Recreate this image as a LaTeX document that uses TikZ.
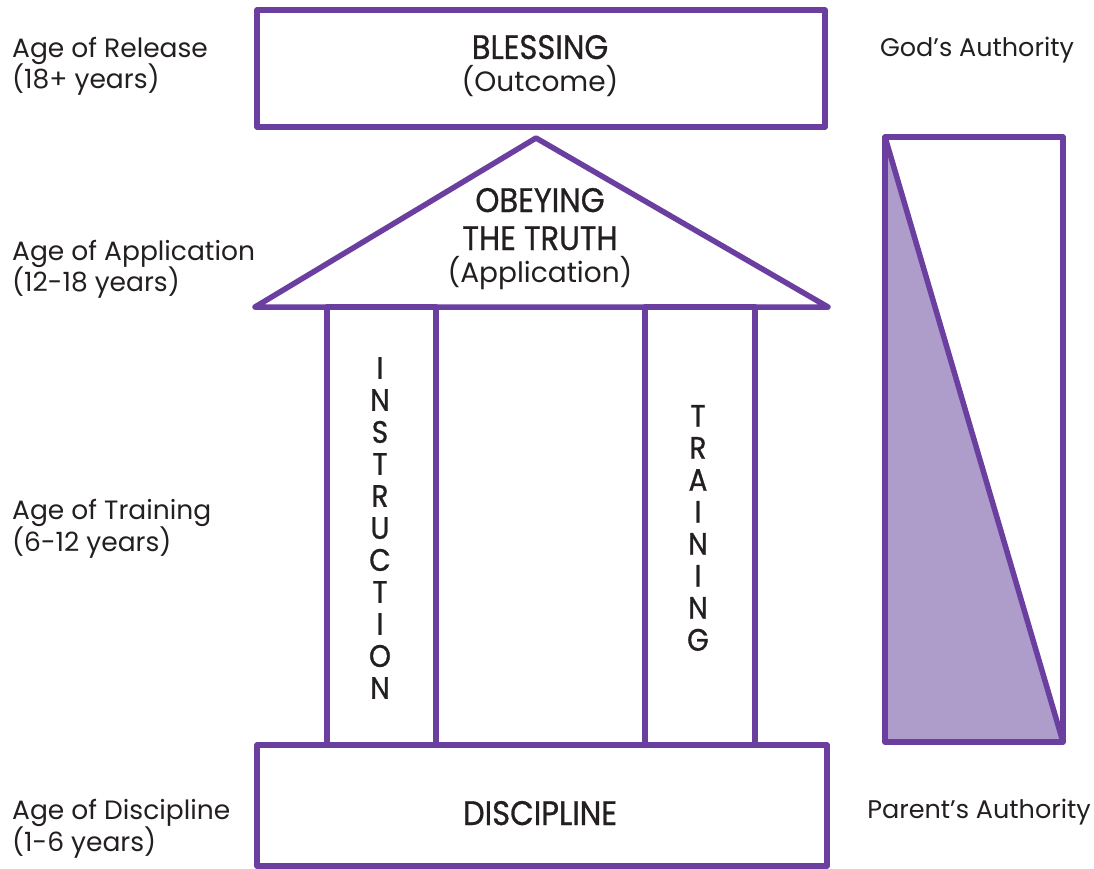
\documentclass[tikz,border=0pt]{standalone}
\usepackage{fontspec}
\setmainfont{Poppins}
\newfontfamily\capsfont{Poppins}[FakeStretch=0.9,FakeBold=0.8]
\usetikzlibrary{positioning}
\definecolor{crayon}{HTML}{6A3FA0}
\definecolor{authfill}{HTML}{AE9DCB}
\definecolor{ink}{HTML}{231F20}
\tikzset{slab/.style={draw=crayon,line width=5.5pt,line join=round,inner sep=0pt,outer sep=0pt}}
\tikzset{edge/.style={draw=crayon,line width=5.5pt,line join=round}}
\tikzset{agelabel/.style={anchor=base west,inner sep=0pt,font=\fontsize{26.5}{30}\selectfont,text=ink}}
\tikzset{authlabel/.style={anchor=base,inner sep=0pt,font=\fontsize{25.5}{30}\selectfont,text=ink}}
\tikzset{headtext/.style={anchor=base,inner sep=0pt,font=\capsfont\fontsize{34}{36}\selectfont,text=ink}}
\tikzset{subtext/.style={anchor=base,inner sep=0pt,font=\fontsize{28}{30}\selectfont,text=ink}}
\tikzset{pillartext/.style={align=center,inner sep=0pt,font=\capsfont\fontsize{31}{32}\selectfont,text=ink}}

\begin{document}
\begin{tikzpicture}[x=1pt,y=-1pt]
        \useasboundingbox (0,0) rectangle (1094,869);
        % authority bar
        \coordinate (authNW) at (885,137);
        \coordinate (authSE) at (1063,742);
        \fill[authfill] (authNW) -- (authNW|-authSE) -- (authSE) -- cycle;
        \draw[edge] (authNW) rectangle (authSE);
        \draw[edge] (authNW) -- (authSE);
        % slabs and pillars
        \node[slab,minimum width=568pt,minimum height=117pt] (blessing) at (541,68.5) {};
        \node[slab,minimum width=570pt,minimum height=121pt] (discipline) at (542,805.5) {};
        \node[slab,minimum width=109pt,minimum height=438pt] (instr) at (381.5,526) {};
        \node[slab,minimum width=110pt,minimum height=438pt] (train) at (700,526) {};
        \coordinate (roofL) at (255,307);
        \coordinate (roofR) at (828,307);
        \coordinate (roofT) at (536,138);
        \draw[edge] (roofL) -- (roofT) -- (roofR) -- cycle;
        % texts in the temple
        \node[headtext] (blesstxt) at (540,59) {BLESSING};
        \node[subtext] (outcome) at ([yshift=-33pt]blesstxt.base) {(Outcome)};
        \node[headtext] (obey) at (540,212) {OBEYING};
        \node[headtext] (truth) at ([yshift=-38pt]obey.base) {THE TRUTH};
        \node[subtext] (appl) at ([yshift=-32pt]truth.base) {(Application)};
        \node[headtext] (disctxt) at (540,825) {DISCIPLINE};
        \node[pillartext] (instrtxt) at (380,528) {I\\N\\S\\T\\R\\U\\C\\T\\I\\O\\N};
        \node[pillartext] (traintxt) at (698,528) {T\\R\\A\\I\\N\\I\\N\\G};
        % ages on the left
        \node[agelabel] (release) at (12,58) {Age of Release};
        \node[agelabel] (releaseyrs) at ([yshift=-31pt]release.base west) {(18+ years)};
        \node[agelabel] (apply) at (12,260) {Age of Application};
        \node[agelabel] (applyyrs) at ([yshift=-31pt]apply.base west) {(12-18 years)};
        \node[agelabel] (training) at (12,519) {Age of Training};
        \node[agelabel] (trainingyrs) at ([yshift=-32pt]training.base west) {(6-12 years)};
        \node[agelabel] (discip) at (12,819) {Age of Discipline};
        \node[agelabel] (discipyrs) at ([yshift=-32pt]discip.base west) {(1-6 years)};
        % authority on the right
        \node[authlabel] (god) at (977,57) {God’s Authority};
        \node[authlabel] (parent) at (979,818) {Parent’s Authority};
      \end{tikzpicture}
\end{document}
